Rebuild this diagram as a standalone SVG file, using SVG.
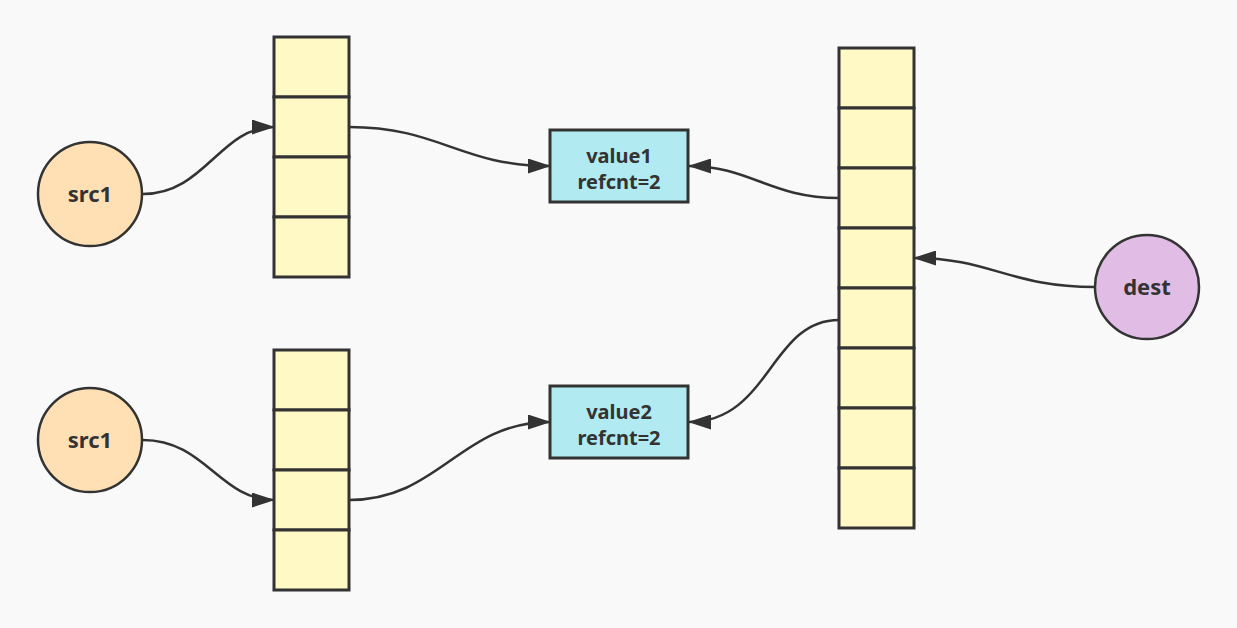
<svg xmlns="http://www.w3.org/2000/svg" width="1237" height="628" viewBox="0 0 1237 628">
<defs>
<style>
.bg{fill:#f9f9f9}
.cell{fill:#fff9c6;stroke:#333;stroke-width:3}
.src{fill:#ffe0b4;stroke:#333;stroke-width:2.5}
.dst{fill:#e1bde6;stroke:#333;stroke-width:2.5}
.val{fill:#b1ebf1;stroke:#333;stroke-width:3}
.lbl{font-family:"Noto Sans","Open Sans",sans-serif;font-weight:bold;fill:#333;text-anchor:middle}
.edge{fill:none;stroke:#333;stroke-width:2.5;marker-end:url(#arr)}
</style>
<marker id="arr" viewBox="0 0 23 15" refX="22" refY="7.5" markerWidth="23" markerHeight="15" markerUnits="userSpaceOnUse" orient="auto">
<path d="M0,0 L23,7.5 L0,15 Z" fill="#333"/>
</marker>
</defs>
<rect class="bg" x="0" y="0" width="1237" height="628"/>
<g id="src1-top">
<circle class="src" cx="90" cy="194" r="52"/>
<text class="lbl" x="90" y="202" font-size="22">src1</text>
</g>
<g id="src1-bottom">
<circle class="src" cx="90" cy="440" r="52"/>
<text class="lbl" x="90" y="448" font-size="22">src1</text>
</g>
<g id="dest">
<circle class="dst" cx="1147" cy="287" r="52"/>
<text class="lbl" x="1147" y="295" font-size="22">dest</text>
</g>
<g id="array-top">
<rect class="cell" x="274" y="37" width="75" height="60"/>
<rect class="cell" x="274" y="97" width="75" height="60"/>
<rect class="cell" x="274" y="157" width="75" height="60"/>
<rect class="cell" x="274" y="217" width="75" height="60"/>
</g>
<g id="array-bottom">
<rect class="cell" x="274" y="350" width="75" height="60"/>
<rect class="cell" x="274" y="410" width="75" height="60"/>
<rect class="cell" x="274" y="470" width="75" height="60"/>
<rect class="cell" x="274" y="530" width="75" height="60"/>
</g>
<g id="array-right">
<rect class="cell" x="839" y="48" width="75" height="60"/>
<rect class="cell" x="839" y="108" width="75" height="60"/>
<rect class="cell" x="839" y="168" width="75" height="60"/>
<rect class="cell" x="839" y="228" width="75" height="60"/>
<rect class="cell" x="839" y="288" width="75" height="60"/>
<rect class="cell" x="839" y="348" width="75" height="60"/>
<rect class="cell" x="839" y="408" width="75" height="60"/>
<rect class="cell" x="839" y="468" width="75" height="60"/>
</g>
<g id="value1">
<rect class="val" x="550" y="130" width="138" height="72"/>
<text class="lbl" x="619" y="163" font-size="20">value1</text>
<text class="lbl" x="619" y="189" font-size="20">refcnt=2</text>
</g>
<g id="value2">
<rect class="val" x="550" y="386" width="138" height="72"/>
<text class="lbl" x="619" y="419" font-size="20">value2</text>
<text class="lbl" x="619" y="445" font-size="20">refcnt=2</text>
</g>
<g id="connectors">
<path class="edge" d="M143,194 C205,194 220,127 274,127"/>
<path class="edge" d="M349,127 C440,127 460,166 550,166"/>
<path class="edge" d="M839,198 C770,198 750,166 689,166"/>
<path class="edge" d="M1095,287 C1010,287 990,258 914,258"/>
<path class="edge" d="M839,320 C770,320 770,422 689,422"/>
<path class="edge" d="M143,440 C205,440 220,500 274,500"/>
<path class="edge" d="M349,500 C440,500 460,422 550,422"/>
</g>
</svg>
